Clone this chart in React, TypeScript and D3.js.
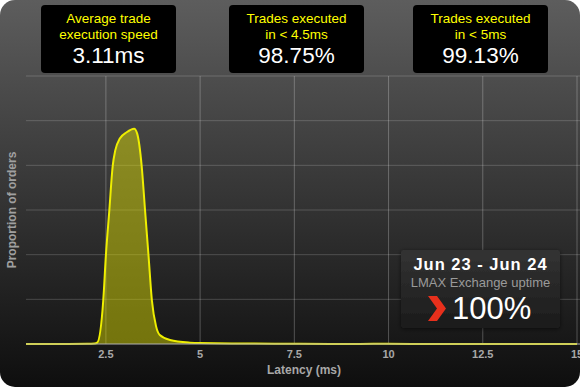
import { useEffect, useRef } from 'react'
import * as d3 from 'd3'

// latency (ms) vs proportion of orders (%)
const latency = [0.38, 1.5, 2.0, 2.2, 2.27, 2.43, 2.5, 2.59, 2.68, 2.75, 2.87, 3.05, 3.25, 3.33, 3.45, 3.54, 3.63, 3.72, 3.83, 3.93, 4.2, 4.73, 5.0, 6.3, 7.65, 8.45, 9.0, 9.6, 10.6, 12, 15]
const proportion = [0, 0, 0.003, 0.01, 0.03, 0.98, 1.99, 2.98, 3.98, 4.34, 4.6, 4.74, 4.82, 4.71, 3.98, 2.98, 1.99, 0.98, 0.4, 0.2, 0.09, 0.03, 0.02, 0.01, 0.005, 0, 0, 0.004, 0, 0, 0]
const xTicks = [2.5, 5, 7.5, 10, 12.5, 15]
const yGrid = [0, 1, 2, 3, 4, 5, 6]

const statTitles = [['Average trade', 'execution speed'], ['Trades executed', 'in < 4.5ms'], ['Trades executed', 'in < 5ms']]
const statValues = ['3.11ms', '98.75%', '99.13%']

const W = 580
const H = 387
const FONT = '"Liberation Sans", Arial, sans-serif'

const App = () => {
  const svgRef = useRef<SVGSVGElement>(null)

  useEffect(() => {
    const svg = d3.select(svgRef.current)
    svg.selectAll('*').remove()

    const defs = svg.append('defs')
    const bg = defs.append('linearGradient').attr('id', 'bg').attr('x1', 0).attr('y1', 0).attr('x2', 0).attr('y2', 1)
    bg.append('stop').attr('offset', '0%').attr('stop-color', '#5d5d5d')
    bg.append('stop').attr('offset', '100%').attr('stop-color', '#0e0e0e')
    const box = defs.append('linearGradient').attr('id', 'box').attr('x1', 0).attr('y1', 0).attr('x2', 0).attr('y2', 1)
    box.append('stop').attr('offset', '0%').attr('stop-color', '#333333')
    box.append('stop').attr('offset', '100%').attr('stop-color', '#1b1b1b')
    const sh = defs.append('filter').attr('id', 'shadow').attr('x', '-10%').attr('y', '-10%').attr('width', '120%').attr('height', '130%')
    sh.append('feDropShadow').attr('dx', 0).attr('dy', 1).attr('stdDeviation', 2).attr('flood-color', '#000').attr('flood-opacity', 0.6)

    svg.append('rect').attr('width', W).attr('height', H).attr('rx', 15).attr('fill', 'url(#bg)')

    const x = d3.scaleLinear().domain([0.38, 15]).range([26, 577])
    const y = d3.scaleLinear().domain([0, 6]).range([344, 76])

    // grid
    svg.append('g').selectAll('line').data(yGrid.slice(1)).join('line')
      .attr('x1', 26).attr('x2', W).attr('y1', d => y(d)).attr('y2', d => y(d))
      .attr('stroke', 'rgba(255,255,255,0.18)')
    svg.append('g').selectAll('line').data(xTicks).join('line')
      .attr('x1', d => x(d)).attr('x2', d => x(d)).attr('y1', y(6)).attr('y2', y(0))
      .attr('stroke', 'rgba(255,255,255,0.25)')

    const pts = latency.map((l, i) => [l, proportion[i]] as [number, number])
    const area = d3.area<[number, number]>().x(d => x(d[0])).y0(y(0)).y1(d => y(d[1])).curve(d3.curveMonotoneX)
    const line = d3.line<[number, number]>().x(d => x(d[0])).y(d => y(d[1])).curve(d3.curveMonotoneX)
    svg.append('path').datum(pts).attr('d', area).attr('fill', '#e6e600').attr('fill-opacity', 0.45)
    svg.append('path').datum(pts).attr('d', line).attr('fill', 'none').attr('stroke', '#eeee00').attr('stroke-width', 2)

    // x axis
    svg.append('line').attr('x1', 26).attr('x2', W).attr('y1', y(0)).attr('y2', y(0))
      .attr('stroke', '#b0b0b0').attr('stroke-width', 1)
    svg.append('g').selectAll('text').data(xTicks).join('text')
      .attr('x', d => x(d)).attr('y', 358).attr('text-anchor', 'middle')
      .attr('font-family', FONT).attr('font-size', 11).attr('font-weight', 'bold').attr('fill', '#a8a8a8')
      .text(d => String(d))
    svg.append('text').attr('x', 304).attr('y', 374).attr('text-anchor', 'middle')
      .attr('font-family', FONT).attr('font-size', 12).attr('font-weight', 'bold').attr('fill', '#a8a8a8')
      .text('Latency (ms)')
    svg.append('text').attr('transform', 'translate(16,210) rotate(-90)').attr('text-anchor', 'middle')
      .attr('font-family', FONT).attr('font-size', 12).attr('font-weight', 'bold').attr('fill', '#a0a0a0')
      .text('Proportion of orders')

    // stat boxes
    const boxX = [41, 229, 413]
    statTitles.forEach((t, i) => {
      const g = svg.append('g').attr('transform', `translate(${boxX[i]},5)`)
      g.append('rect').attr('width', 135).attr('height', 68).attr('rx', 4).attr('fill', '#000')
      t.forEach((s, j) => {
        g.append('text').attr('x', 67.5).attr('y', 18 + j * 16).attr('text-anchor', 'middle')
          .attr('font-family', FONT).attr('font-size', 13.5).attr('fill', '#ffff00').text(s)
      })
      g.append('text').attr('x', 67.5).attr('y', 58).attr('text-anchor', 'middle')
        .attr('font-family', FONT).attr('font-size', 22.5).attr('fill', '#ffffff').text(statValues[i])
    })

    // uptime box
    const u = svg.append('g').attr('transform', 'translate(401,250)')
    u.append('rect').attr('width', 159).attr('height', 78).attr('rx', 3).attr('fill', 'url(#box)').attr('filter', 'url(#shadow)')
    u.append('text').attr('x', 79.5).attr('y', 20).attr('text-anchor', 'middle')
      .attr('font-family', FONT).attr('font-size', 16.5).attr('font-weight', 'bold').attr('letter-spacing', 1)
      .attr('fill', '#ffffff').text('Jun 23 - Jun 24')
    u.append('text').attr('x', 79.5).attr('y', 37).attr('text-anchor', 'middle')
      .attr('font-family', FONT).attr('font-size', 13).attr('fill', '#9a9a9a').text('LMAX Exchange uptime')
    u.append('path').attr('d', 'M27,46 L36,46 L45,58.5 L36,71 L27,71 L36,58.5 Z').attr('fill', '#e8301c')
    u.append('text').attr('x', 51).attr('y', 69)
      .attr('font-family', FONT).attr('font-size', 31).attr('fill', '#ffffff').text('100%')
  }, [])

  return <svg ref={svgRef} width={W} height={H} style={{ position: 'absolute', left: 0, top: 0 }}></svg>
}

export default App
